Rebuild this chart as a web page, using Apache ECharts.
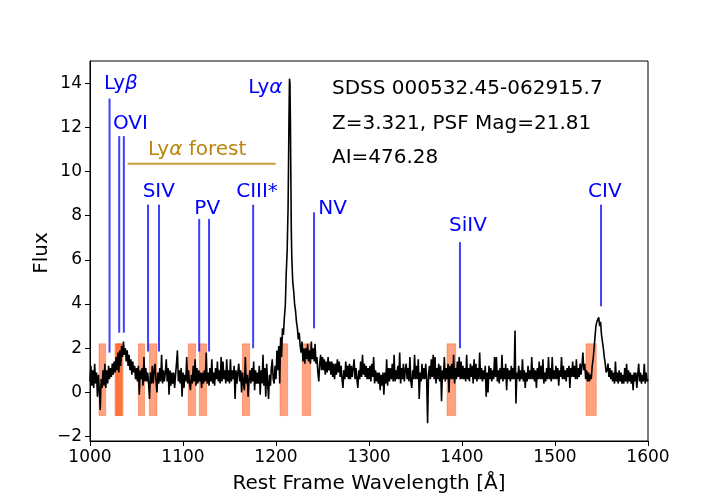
<!DOCTYPE html>
<html>
<head>
<meta charset="utf-8">
<script src="https://cdn.jsdelivr.net/npm/echarts@6/dist/echarts.min.js"></script>
<style>
  html, body { margin: 0; padding: 0; background: #fff; }
  #main { width: 720px; height: 504px; }
</style>
</head>
<body>
<div id="main"></div>
<script>
// rest frame spectrum: [wavelength (A), flux]
const spectrum = [
  [1000,0.5],[1001,1.2],[1002,0.3],[1003,1.0],[1004,0.2],[1005,1.3],[1006,0.4],[1007,0.9],[1008,-0.2],[1009,0.8],
  [1010,0.1],[1011,-0.8],[1012,0.6],[1013,0.2],[1014,1.0],[1015,0.3],[1016,1.3],[1017,0.2],[1018,1.0],[1019,0.4],
  [1020,1.2],[1021,0.6],[1022,1.1],[1023,0.7],[1024,1.3],[1025,0.8],[1026,1.4],[1027,0.9],[1028,1.6],[1029,1.0],
  [1030,1.8],[1031,0.9],[1032,1.9],[1033,1.2],[1034,2.1],[1035,1.6],[1036,2.3],[1037,1.7],[1038,2.0],[1039,1.4],
  [1040,1.9],[1041,1.2],[1042,1.7],[1043,1.0],[1044,1.5],[1045,0.8],[1046,1.4],[1047,0.9],[1048,1.2],[1049,0.6],
  [1050,1.1],[1051,0.5],[1052,1.2],[1053,-0.1],[1054,1.0],[1055,0.6],[1056,1.1],[1057,0.3],[1058,1.6],[1059,0.5],
  [1060,1.1],[1061,0.5],[1062,0.9],[1063,0.4],[1064,-0.3],[1065,0.9],[1066,0.4],[1067,1.2],[1068,0.4],[1069,1.0],
  [1070,1.3],[1071,0.5],[1072,0.0],[1073,0.9],[1074,0.4],[1075,1.1],[1076,0.5],[1077,1.7],[1078,0.4],[1079,1.0],
  [1080,0.5],[1081,0.9],[1082,1.5],[1083,0.5],[1084,1.1],[1085,-0.1],[1086,1.0],[1087,0.3],[1088,0.9],[1089,0.4],
  [1090,0.9],[1091,0.2],[1092,0.8],[1093,1.3],[1094,1.9],[1095,0.5],[1096,1.0],[1097,0.4],[1098,1.1],[1099,-0.2],
  [1100,0.9],[1101,0.2],[1102,0.8],[1103,0.5],[1104,1.6],[1105,0.4],[1106,1.0],[1107,0.4],[1108,0.1],[1109,0.8],
  [1110,0.4],[1111,1.2],[1112,0.5],[1113,1.5],[1114,0.3],[1115,1.1],[1116,0.4],[1117,1.0],[1118,0.5],[1119,0.9],
  [1120,0.2],[1121,0.9],[1122,0.4],[1123,1.0],[1124,0.5],[1125,1.8],[1126,0.4],[1127,0.9],[1128,0.3],[1129,1.1],
  [1130,0.5],[1131,1.5],[1132,0.4],[1133,0.9],[1134,0.3],[1135,1.1],[1136,0.6],[1137,1.4],[1138,0.5],[1139,1.0],
  [1140,0.4],[1141,1.6],[1142,0.5],[1143,1.4],[1144,0.6],[1145,1.0],[1146,0.4],[1147,1.5],[1148,0.5],[1149,1.0],
  [1150,0.4],[1151,1.5],[1152,0.5],[1153,1.0],[1154,0.6],[1155,1.2],[1156,-0.3],[1157,1.0],[1158,0.4],[1159,0.9],
  [1160,1.3],[1161,0.5],[1162,1.0],[1163,0.0],[1164,0.9],[1165,0.4],[1166,0.1],[1167,1.6],[1168,0.4],[1169,0.8],
  [1170,-0.2],[1171,0.6],[1172,1.0],[1173,0.4],[1174,1.1],[1175,0.5],[1176,1.4],[1177,0.1],[1178,1.0],[1179,0.4],
  [1180,0.9],[1181,0.4],[1182,1.2],[1183,-0.1],[1184,1.0],[1185,0.4],[1186,1.7],[1187,0.3],[1188,1.1],[1189,-0.2],
  [1190,1.3],[1191,0.4],[1192,-0.3],[1193,0.8],[1194,0.3],[1195,1.1],[1196,1.5],[1197,0.6],[1198,0.4],[1199,1.2],
  // Lya emission
  [1200,0.6],[1201,1.9],[1202,1.0],[1203,2.1],[1204,0.4],[1205,2.5],[1206,1.6],[1207,2.9],[1208,2.6],[1209,3.4],
  [1210,3.9],[1211,5.4],[1212,6.4],[1213,8.4],[1213.5,10.4],[1214,12.6],[1214.5,14.2],[1215,14.0],[1215.5,12.2],
  [1216,9.6],[1216.5,7.2],[1217,6.1],[1218,5.0],[1219,4.6],[1220,4.0],[1221,3.7],[1222,3.2],[1223,2.9],[1224,2.4],
  [1225,2.7],[1226,2.1],[1227,1.8],[1228,2.3],[1229,1.4],[1230,2.0],
  [1231,1.3],[1232,2.0],[1233,1.5],[1234,2.2],[1235,1.4],[1236,1.9],[1237,1.3],[1238,2.3],[1239,1.5],
  [1240,2.0],[1241,1.4],[1242,2.2],[1243,1.3],[1244,1.6],[1245,0.9],[1246,0.5],[1247,1.3],[1248,1.7],[1249,1.0],
  [1250,1.6],[1251,1.0],[1252,1.5],[1253,0.8],[1254,1.4],[1255,0.9],[1256,1.6],[1257,1.0],[1258,1.4],[1259,0.8],
  [1260,1.4],[1261,0.7],[1262,1.3],[1263,0.6],[1264,1.3],[1265,0.8],[1266,1.5],[1267,0.9],[1268,1.4],[1269,0.7],
  [1270,1.2],[1271,0.6],[1272,0.2],[1273,1.0],[1274,0.6],[1275,1.4],[1276,0.7],[1277,1.2],[1278,0.6],[1279,1.3],
  [1280,0.6],[1281,1.2],[1282,0.7],[1283,1.1],[1284,1.5],[1285,0.6],[1286,1.1],[1287,0.6],[1288,0.2],[1289,1.0],
  [1290,0.6],[1291,1.4],[1292,0.7],[1293,1.7],[1294,0.8],[1295,1.3],[1296,0.7],[1297,1.2],[1298,0.6],[1299,1.1],
  [1300,0.6],[1301,1.2],[1302,0.5],[1303,1.3],[1304,0.7],[1305,1.6],[1306,0.4],[1307,1.0],[1308,0.5],[1309,0.9],
  [1310,0.4],[1311,0.9],[1312,0.1],[1313,0.8],[1314,0.3],[1315,0.9],[1316,-0.1],[1317,0.9],[1318,0.4],[1319,1.5],
  [1320,0.3],[1321,1.1],[1322,0.5],[1323,1.1],[1324,0.6],[1325,1.3],[1326,0.5],[1327,1.7],[1328,0.5],[1329,1.0],
  [1330,0.6],[1331,1.2],[1332,0.6],[1333,1.8],[1334,0.4],[1335,1.1],[1336,0.6],[1337,1.3],[1338,0.5],[1339,1.0],
  [1340,1.3],[1341,0.6],[1342,1.1],[1343,0.5],[1344,1.6],[1345,0.5],[1346,0.2],[1347,1.0],[1348,0.6],[1349,1.7],
  [1350,0.6],[1351,1.2],[1352,0.6],[1353,1.5],[1354,-0.3],[1355,0.9],[1356,0.5],[1357,1.3],[1358,0.6],[1359,1.1],
  [1360,0.6],[1361,1.3],[1362,0.6],[1363,-1.4],[1364,0.8],[1365,1.2],[1366,0.6],[1367,1.5],[1368,0.7],[1369,1.7],
  [1370,0.6],[1371,1.6],[1372,0.4],[1373,1.1],[1374,0.6],[1375,1.3],[1376,0.5],[1377,1.2],[1378,-0.4],[1379,1.0],
  [1380,0.6],[1381,1.6],[1382,0.5],[1383,1.1],[1384,0.6],[1385,1.3],[1386,0.0],[1387,1.2],[1388,0.6],[1389,1.3],
  [1390,0.6],[1391,1.7],[1392,0.4],[1393,1.1],[1394,0.6],[1395,1.4],[1396,0.7],[1397,1.6],[1398,0.6],[1399,1.4],
  [1400,0.6],[1401,1.2],[1402,0.6],[1403,1.1],[1404,0.5],[1405,1.7],[1406,0.6],[1407,1.1],[1408,0.5],[1409,1.3],
  [1410,0.7],[1411,1.2],[1412,0.4],[1413,1.5],[1414,0.6],[1415,1.3],[1416,0.5],[1417,1.1],[1418,0.6],[1419,1.8],
  [1420,0.6],[1421,1.1],[1422,0.5],[1423,1.0],[1424,0.6],[1425,1.2],[1426,-0.2],[1427,0.9],[1428,0.0],[1429,1.2],
  [1430,0.6],[1431,1.1],[1432,0.5],[1433,1.0],[1434,0.6],[1435,1.6],[1436,0.7],[1437,1.6],[1438,0.5],[1439,1.0],
  [1440,0.4],[1441,1.1],[1442,0.6],[1443,1.7],[1444,0.5],[1445,1.1],[1446,0.6],[1447,1.3],[1448,0.1],[1449,1.1],
  [1450,0.6],[1451,1.0],[1452,0.5],[1453,1.2],[1454,0.6],[1455,1.1],[1456,0.6],[1457,2.8],[1458,-0.5],[1459,0.9],
  [1460,0.6],[1461,1.2],[1462,0.5],[1463,1.0],[1464,0.6],[1465,1.5],[1466,0.5],[1467,1.0],[1468,0.2],[1469,0.9],
  [1470,0.5],[1471,1.2],[1472,0.6],[1473,1.0],[1474,0.6],[1475,1.6],[1476,0.6],[1477,1.1],[1478,0.5],[1479,1.0],
  [1480,0.2],[1481,1.1],[1482,0.6],[1483,1.4],[1484,0.6],[1485,1.2],[1486,0.6],[1487,1.5],[1488,0.4],[1489,0.9],
  [1490,0.5],[1491,1.1],[1492,0.6],[1493,1.6],[1494,0.6],[1495,1.1],[1496,0.5],[1497,1.6],[1498,0.6],[1499,1.0],
  [1500,0.6],[1501,1.2],[1502,0.6],[1503,1.1],[1504,0.3],[1505,1.0],[1506,0.7],[1507,1.6],[1508,0.6],[1509,1.2],
  [1510,0.6],[1511,1.0],[1512,0.5],[1513,1.1],[1514,0.7],[1515,1.2],[1516,0.2],[1517,1.1],[1518,0.7],[1519,1.4],
  [1520,0.7],[1521,1.2],[1522,0.6],[1523,1.5],[1524,0.6],[1525,1.1],[1526,0.7],[1527,1.3],[1528,0.8],[1529,1.2],
  [1530,1.8],[1531,1.0],[1532,1.3],[1533,0.6],[1534,1.0],[1535,0.5],[1536,0.9],[1537,0.5],[1538,0.8],[1539,0.6],
  [1540,1.2],[1541,1.5],[1542,2.0],[1543,2.5],[1544,3.0],[1545,3.2],[1546,3.3],[1547,3.4],[1548,3.0],[1549,3.2],
  [1550,2.6],[1551,2.3],[1552,2.0],[1553,1.6],[1554,1.3],[1555,0.9],[1556,1.0],[1557,1.3],[1558,0.7],[1559,1.1],
  [1560,0.6],[1561,1.0],[1562,0.5],[1563,0.9],[1564,0.4],[1565,1.4],[1566,0.5],[1567,0.9],[1568,0.4],[1569,1.0],
  [1570,0.5],[1571,0.9],[1572,0.4],[1573,0.8],[1574,0.4],[1575,1.1],[1576,0.5],[1577,1.3],[1578,0.4],[1579,1.0],
  [1580,0.5],[1581,0.9],[1582,0.4],[1583,0.8],[1584,0.1],[1585,0.9],[1586,0.5],[1587,0.9],[1588,0.2],[1589,0.8],
  [1590,1.3],[1591,0.5],[1592,0.9],[1593,0.4],[1594,0.8],[1595,0.5],[1596,1.3],[1597,0.4],[1598,0.9],[1599,0.5],
  [1600,0.6]
];

// absorption windows (orange spans)
const boxStart = [1009.7, 1026.9, 1028.2, 1052.0, 1063.8, 1105.7, 1117.5, 1163.8, 1204.3, 1228.3, 1383.9, 1533.3];
const boxEnd   = [1016.9, 1034.1, 1035.5, 1058.7, 1072.0, 1113.6, 1125.4, 1171.7, 1212.6, 1237.3, 1393.2, 1544.4];
const boxLow = -1.05;
const boxHigh = 2.2;

// line markers
const markWave   = [1021.0, 1031.4, 1036.4, 1062.4, 1074.2, 1117.4, 1128.0, 1175.4, 1240.9, 1397.8, 1549.5];
const markTop    = [13.3, 11.6, 11.6, 8.5, 8.5, 7.85, 7.85, 8.5, 8.15, 6.8, 8.5];
const markBottom = [1.8, 2.7, 2.7, 1.85, 1.85, 1.85, 1.85, 2.0, 2.9, 2.0, 3.9];

// line labels
const labelText = ['Ly{i|β}', 'OVI', 'SIV', 'PV', 'CIII*', 'Ly{i|α}', 'NV', 'SiIV', 'CIV'];
const labelWave = [1015.0, 1024.7, 1056.6, 1112.2, 1157.2, 1207.0, 1245.5, 1386.0, 1535.5];
const labelFlux = [13.96, 12.15, 9.07, 8.32, 9.07, 13.78, 8.3, 7.53, 9.07];
const labelAlign = ['left', 'left', 'left', 'left', 'left', 'right', 'left', 'left', 'left'];

// Lya forest bar
const forestWave = [1040.5, 1199.7];
const forestFlux = 10.35;

const infoLines = ['SDSS 000532.45-062915.7', 'Z=3.321, PSF Mag=21.81', 'AI=476.28'];

const yTicks = [-2, 0, 2, 4, 6, 8, 10, 12, 14];

const FONT = '"DejaVu Sans", sans-serif';
const BLUE = 'rgba(0,0,255,0.75)';
const GOLD = '#b8860b';

const myChart = echarts.init(document.getElementById('main'), null, { renderer: 'canvas' });

const option = {
  animation: false,
  backgroundColor: '#fff',
  grid: {
    left: 90, right: 72, top: 61, bottom: 63,
    show: true, borderColor: '#000', borderWidth: 1
  },
  xAxis: {
    type: 'value',
    min: 1000, max: 1600, interval: 100,
    axisLine: { show: true, onZero: false, lineStyle: { color: '#000', width: 1 } },
    axisTick: { show: true, length: 5, lineStyle: { color: '#000' } },
    axisLabel: { color: '#000', fontSize: 17, fontFamily: FONT, margin: 8, formatter: (v) => String(v) },
    splitLine: { show: false }
  },
  yAxis: {
    type: 'value',
    min: -2.2, max: 15,
    axisLine: { show: true, onZero: false, lineStyle: { color: '#000', width: 1 } },
    axisTick: { show: true, length: 5, lineStyle: { color: '#000' }, customValues: yTicks },
    axisLabel: {
      color: '#000', fontSize: 17, fontFamily: FONT, margin: 8,
      customValues: yTicks,
      formatter: (v) => String(v).replace('-', '\u2212')
    },
    splitLine: { show: false }
  },
  series: [
    {
      // orange spans
      type: 'custom',
      z: 1,
      silent: true,
      data: boxStart.map((s, i) => [s, boxEnd[i]]),
      renderItem: (params, api) => {
        const p0 = api.coord([api.value(0), boxHigh]);
        const p1 = api.coord([api.value(1), boxLow]);
        return {
          type: 'rect',
          shape: { x: p0[0], y: p0[1], width: p1[0] - p0[0], height: p1[1] - p0[1] },
          style: { fill: 'rgba(255,69,0,0.5)', stroke: 'rgba(255,69,0,0.35)', lineWidth: 1 }
        };
      }
    },
    {
      // spectrum
      type: 'line',
      z: 2,
      data: spectrum,
      showSymbol: false,
      symbol: 'none',
      sampling: false,
      lineStyle: { color: '#000', width: 1.6 }
    },
    {
      // line markers
      type: 'custom',
      z: 3,
      silent: true,
      data: markWave.map((w, i) => [w, markBottom[i], markTop[i]]),
      renderItem: (params, api) => {
        const a = api.coord([api.value(0), api.value(1)]);
        const b = api.coord([api.value(0), api.value(2)]);
        return {
          type: 'line',
          shape: { x1: a[0], y1: a[1], x2: b[0], y2: b[1] },
          style: { stroke: BLUE, lineWidth: 2 }
        };
      }
    },
    {
      // Lya forest bar
      type: 'line',
      z: 3,
      data: forestWave.map((w) => [w, forestFlux]),
      showSymbol: false,
      symbol: 'none',
      lineStyle: { color: GOLD, width: 2, opacity: 0.8 }
    },
    {
      // labels
      type: 'custom',
      z: 4,
      silent: true,
      data: labelWave.map((w, i) => [w, labelFlux[i]]),
      renderItem: (params, api) => {
        const i = params.dataIndex;
        const p = api.coord([api.value(0), api.value(1)]);
        return {
          type: 'text',
          x: p[0], y: p[1],
          style: {
            text: labelText[i],
            fill: '#0000ff',
            fontSize: 20,
            fontFamily: FONT,
            align: labelAlign[i],
            verticalAlign: 'middle',
            rich: { i: { fontStyle: 'italic', fontSize: 20, fontFamily: FONT, fill: '#0000ff' } }
          }
        };
      }
    },
    {
      // forest label
      type: 'custom',
      z: 4,
      silent: true,
      data: [[1062.4, 11.0]],
      renderItem: (params, api) => {
        const p = api.coord([api.value(0), api.value(1)]);
        return {
          type: 'text',
          x: p[0], y: p[1],
          style: {
            text: 'Ly{i|α} forest',
            fill: GOLD,
            fontSize: 20,
            fontFamily: FONT,
            verticalAlign: 'middle',
            rich: { i: { fontStyle: 'italic', fontSize: 20, fontFamily: FONT, fill: GOLD } }
          }
        };
      }
    }
  ],
  graphic: [
    ...infoLines.map((t, i) => ({
      type: 'text',
      x: 332, y: [89, 124, 158][i],
      style: { text: t, fill: '#000', font: '20px ' + FONT, verticalAlign: 'middle' }
    })),
    {
      type: 'text',
      x: 369, y: 484,
      style: { text: 'Rest Frame Wavelength [Å]', fill: '#000', font: '20px ' + FONT, align: 'center', verticalAlign: 'middle' }
    },
    {
      type: 'text',
      x: 42, y: 253,
      rotation: Math.PI / 2,
      style: { text: 'Flux', fill: '#000', font: '20px ' + FONT, align: 'center', verticalAlign: 'middle' }
    }
  ]
};

myChart.setOption(option);
</script>
</body>
</html>
